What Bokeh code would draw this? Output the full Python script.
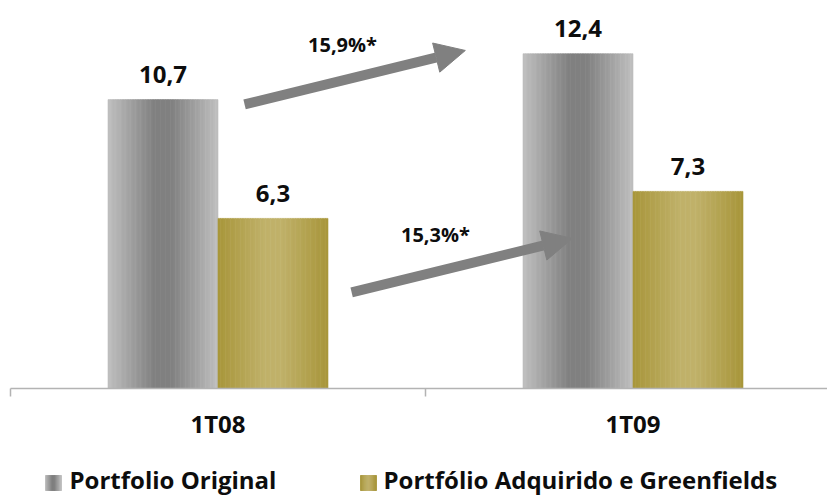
from bokeh.plotting import figure
from bokeh.models import Range1d, Arrow, NormalHead, ColumnDataSource
from bokeh.core.properties import value
from bokeh.embed import file_html
from bokeh.resources import INLINE

# ---- data ----
CATEGORIES = ["1T08", "1T09"]
SERIES_NAMES = ["Portfolio Original", "Portfólio Adquirido e Greenfields"]
ORIGINAL = [10.7, 12.4]
ADQUIRIDO = [6.3, 7.3]
GROWTH_LABELS = ["15,9%*", "15,3%*"]

# ---- layout / style ----
FONT = value("Open Sans")
TEXT_COLOR = "#0D0D0D"
AXIS_COLOR = "#B3B3B3"
ARROW_COLOR = "#808080"
GRAY_EDGE, GRAY_MID = (192, 192, 192), (128, 128, 128)
GOLD_EDGE, GOLD_MID = (168, 150, 58), (192, 177, 106)

W, H = 827, 496
PX_PER_X = 415.0      # pixels per category slot
PX_PER_Y = 27.0       # pixels per unit of value
ORIGIN_X, ORIGIN_Y = 10, 388   # pixel position of the baseline's left end
BAR_W = 110 / PX_PER_X
N_STRIPS = 44

# growth annotations (data coordinates)
GROWTH_POS = [(0.80, 12.74), (1.024, 5.70)]
ARROWS = [((0.564, 10.52), (1.096, 12.52)),
          ((0.822, 3.56), (1.354, 5.56))]

# legend placement in pixels from the top-left corner
LEG_SWATCH_X = [45, 360]
LEG_TEXT_X = [69, 383]
LEG_SWATCH_TOP, LEG_SWATCH_BOTTOM, LEG_TEXT_MID = 475, 490, 479


def dx(px):
    return (px - ORIGIN_X) / PX_PER_X


def dy(py):
    return (ORIGIN_Y - py) / PX_PER_Y


def mix(c1, c2, s):
    r, g, b = (round(a + (b_ - a) * s) for a, b_ in zip(c1, c2))
    return f"#{r:02x}{g:02x}{b:02x}"


def gradient_strips(left, width, top, bottom, edge, mid):
    """Split a rectangle into vertical strips shaded edge -> mid -> edge."""
    ls, rs, ts, bs, cs = [], [], [], [], []
    step = width / N_STRIPS
    for k in range(N_STRIPS):
        t = (k + 0.5) / N_STRIPS
        s = min(1.0, (1 - abs(2 * t - 1)) / 0.85)
        ls.append(left + k * step)
        rs.append(left + (k + 1) * step)
        ts.append(top)
        bs.append(bottom)
        cs.append(mix(edge, mid, s))
    return dict(left=ls, right=rs, top=ts, bottom=bs, color=cs)


def fmt(v):
    return f"{v:.1f}".replace(".", ",")


p = figure(width=W, height=H, output_backend="svg", toolbar_location=None,
           x_range=Range1d(dx(0), dx(W)), y_range=Range1d(dy(H), dy(0)),
           x_axis_location=None, y_axis_location=None,
           min_border=0, min_border_left=0, min_border_right=0,
           min_border_top=0, min_border_bottom=0)
p.outline_line_color = None
p.grid.visible = False
p.background_fill_color = "white"
p.border_fill_color = "white"

# bars as shaded strips
series = [(ORIGINAL, -BAR_W, GRAY_EDGE, GRAY_MID), (ADQUIRIDO, 0.0, GOLD_EDGE, GOLD_MID)]
for vals, off, edge, mid in series:
    for i, v in enumerate(vals):
        src = ColumnDataSource(gradient_strips(i + 0.5 + off, BAR_W, v, 0, edge, mid))
        p.quad(left="left", right="right", top="top", bottom="bottom", source=src,
               fill_color="color", line_color="color", line_width=0.6)

# category baseline with tick marks on the group boundaries
n = len(CATEGORIES)
p.segment(x0=[0], y0=[0], x1=[dx(W)], y1=[0], line_color=AXIS_COLOR, line_width=1.5)
p.segment(x0=list(range(n + 1)), y0=[0] * (n + 1), x1=list(range(n + 1)),
          y1=[dy(ORIGIN_Y + 8)] * (n + 1), line_color=AXIS_COLOR, line_width=1.5)
p.text(x=[i + 0.5 for i in range(n)], y=[0] * n, text=CATEGORIES, y_offset=35,
       text_align="center", text_baseline="middle", text_font=FONT,
       text_font_style="bold", text_font_size="24px", text_color=TEXT_COLOR)

# value labels
for vals, off in [(ORIGINAL, -BAR_W / 2), (ADQUIRIDO, BAR_W / 2)]:
    p.text(x=[i + 0.5 + off for i in range(len(vals))], y=vals, text=[fmt(v) for v in vals],
           y_offset=-25, text_align="center", text_baseline="middle",
           text_font=FONT, text_font_style="bold", text_font_size="24px",
           text_color=TEXT_COLOR)

# growth arrows and labels
for (x0, y0), (x1, y1) in ARROWS:
    p.add_layout(Arrow(x_start=x0, y_start=y0, x_end=x1, y_end=y1,
                       line_color=ARROW_COLOR, line_width=10,
                       end=NormalHead(size=30, fill_color=ARROW_COLOR,
                                      line_color=ARROW_COLOR, line_width=1)))
p.text(x=[xy[0] for xy in GROWTH_POS], y=[xy[1] for xy in GROWTH_POS], text=GROWTH_LABELS,
       text_align="center", text_baseline="middle", text_font=FONT,
       text_font_style="bold", text_font_size="20px", text_color=TEXT_COLOR)

# legend
for name, sx, tx, (edge, mid) in zip(SERIES_NAMES, LEG_SWATCH_X, LEG_TEXT_X,
                                     [(GRAY_EDGE, GRAY_MID), (GOLD_EDGE, GOLD_MID)]):
    src = ColumnDataSource(gradient_strips(dx(sx), 16 / PX_PER_X, dy(LEG_SWATCH_TOP),
                                           dy(LEG_SWATCH_BOTTOM), edge, mid))
    p.quad(left="left", right="right", top="top", bottom="bottom", source=src,
           fill_color="color", line_color="color", line_width=0.6)
    p.text(x=[dx(tx)], y=[dy(LEG_TEXT_MID)], text=[name], text_align="left",
           text_baseline="middle", text_font=FONT, text_font_style="bold",
           text_font_size="24px", text_color=TEXT_COLOR)

open("out.html", "w").write(file_html(p, INLINE))
